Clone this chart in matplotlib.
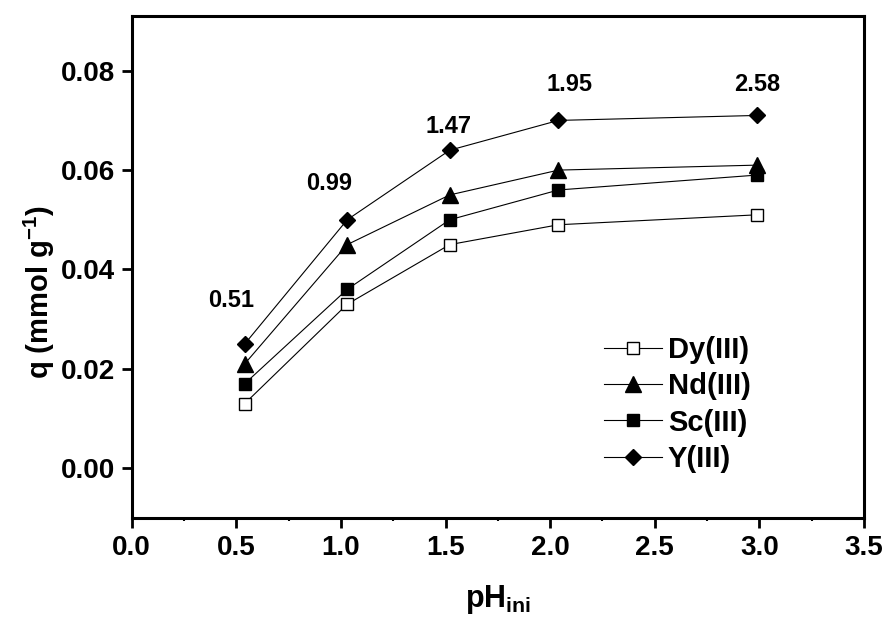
import matplotlib
matplotlib.use("Agg")
import matplotlib.pyplot as plt
from matplotlib.ticker import MultipleLocator

plt.rcParams['font.family'] = ['Liberation Sans', 'DejaVu Sans']
plt.rcParams['font.weight'] = 'bold'
plt.rcParams['mathtext.fontset'] = 'custom'
plt.rcParams['mathtext.rm'] = 'Liberation Sans:bold'
plt.rcParams['mathtext.it'] = 'Liberation Sans:bold'
plt.rcParams['mathtext.bf'] = 'Liberation Sans:bold'

# initial pH and uptake of each metal ion
ph_ini = [0.54, 1.03, 1.52, 2.04, 2.99]
q_dy = [0.013, 0.033, 0.045, 0.049, 0.051]
q_nd = [0.021, 0.045, 0.055, 0.060, 0.061]
q_sc = [0.017, 0.036, 0.050, 0.056, 0.059]
q_y = [0.025, 0.050, 0.064, 0.070, 0.071]
ph_eq_labels = ["0.51", "0.99", "1.47", "1.95", "2.58"]

series_names = ["Dy(III)", "Nd(III)", "Sc(III)", "Y(III)"]

fig = plt.figure(figsize=(8.87, 6.18), dpi=100)
ax = fig.add_axes([0.1485, 0.162, 0.8255, 0.812])

line_kw = dict(color='black', lw=0.8)
ax.plot(ph_ini, q_dy, marker='s', ms=8, mfc='white', mec='black', mew=1.0,
        label=series_names[0], **line_kw)
ax.plot(ph_ini, q_nd, marker='^', ms=11, mfc='black', mec='black',
        label=series_names[1], **line_kw)
ax.plot(ph_ini, q_sc, marker='s', ms=8, mfc='black', mec='black',
        label=series_names[2], **line_kw)
ax.plot(ph_ini, q_y, marker='D', ms=8, mfc='black', mec='black',
        label=series_names[3], **line_kw)

# equilibrium pH written above the Y(III) points
label_offsets = [(-10, 31), (-13, 26), (-1, 17), (8, 26), (0, 22)]
for x, y, txt, off in zip(ph_ini, q_y, ph_eq_labels, label_offsets):
    ax.annotate(txt, (x, y), xytext=off, textcoords='offset points',
                ha='center', va='center', fontsize=17, fontweight='bold')

ax.set_xlim(0.0, 3.5)
ax.set_ylim(-0.01, 0.091)
ax.xaxis.set_major_locator(MultipleLocator(0.5))
ax.xaxis.set_minor_locator(MultipleLocator(0.25))
ax.set_yticks([0.00, 0.02, 0.04, 0.06, 0.08])
ax.xaxis.set_major_formatter(plt.FormatStrFormatter('%.1f'))
ax.yaxis.set_major_formatter(plt.FormatStrFormatter('%.2f'))

for sp in ax.spines.values():
    sp.set_linewidth(2.2)
ax.tick_params(axis='both', which='major', direction='out', length=7,
               width=2, labelsize=20, pad=5)
ax.tick_params(axis='x', which='minor', direction='out', length=2.5, width=1.5)
ax.tick_params(axis='y', which='minor', left=False)

ax.set_xlabel(r'pH$_{\mathregular{ini}}$', fontsize=22, fontweight='bold',
              labelpad=16)
ax.set_ylabel(r'q (mmol g$^{\mathregular{-1}}$)', fontsize=21,
              fontweight='bold', labelpad=3)
ax.yaxis.label.set_y(0.45)

ax.legend(loc='upper left', bbox_to_anchor=(0.6805, 0.4565),
          bbox_transform=fig.transFigure, frameon=False, fontsize=21,
          handlelength=2.0, handletextpad=0.2, labelspacing=0.285,
          borderpad=0, borderaxespad=0)

fig.savefig('out.png', dpi=100)
